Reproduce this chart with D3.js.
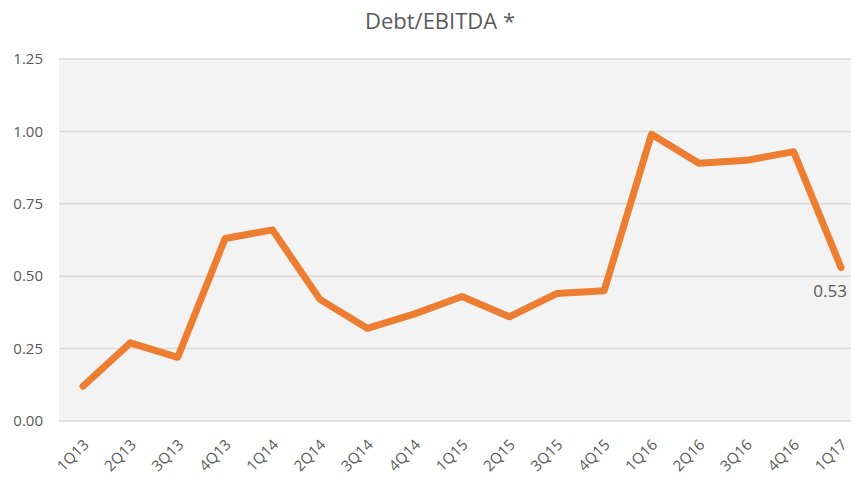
<!DOCTYPE html>
<html>
<head>
<meta charset="utf-8">
<script src="https://cdn.jsdelivr.net/npm/d3@7"></script>
<style>
	body { margin: 0; background: #fff; }
	text { font-family: "Open Sans", "Noto Sans", sans-serif; fill: #595959; }
</style>
</head>
<body>
<svg width="851" height="481"></svg>
<script>
var quarters = ["1Q13","2Q13","3Q13","4Q13","1Q14","2Q14","3Q14","4Q14","1Q15","2Q15","3Q15","4Q15","1Q16","2Q16","3Q16","4Q16","1Q17"];
var ratio = [0.12,0.27,0.22,0.63,0.66,0.42,0.32,0.37,0.43,0.36,0.44,0.45,0.99,0.89,0.90,0.93,0.53];
var y_ticks = [0,0.25,0.5,0.75,1.0,1.25];

(function(){
	var svg = d3.select("svg");
	// plot box (note: "top" is reserved on window, so keep these local)
	var box = { left: 59, right: 851, top: 59, bottom: 421 };

	var x = d3.scalePoint().domain(quarters).range([83, 841]);
	var y = d3.scaleLinear().domain([0,1.25]).range([box.bottom, box.top]);

	// plot background
	svg.append("rect")
		.attr("x", box.left).attr("y", box.top)
		.attr("width", box.right-box.left).attr("height", box.bottom-box.top)
		.attr("fill", "#f3f3f3");

	// gridlines
	svg.append("g").selectAll("line")
		.data(y_ticks)
		.enter().append("line")
			.attr("x1", box.left).attr("x2", box.right)
			.attr("y1", function(d){ return y(d); })
			.attr("y2", function(d){ return y(d); })
			.attr("stroke", "#d9d9d9")
			.attr("stroke-width", 1.5);

	// y labels
	svg.append("g").selectAll("text")
		.data(y_ticks)
		.enter().append("text")
			.attr("x", 43)
			.attr("y", function(d){ return y(d); })
			.attr("dy", "0.35em")
			.attr("text-anchor", "end")
			.attr("font-size", 15)
			.text(function(d){ return d3.format(".2f")(d); });

	// x labels, rotated
	svg.append("g").selectAll("text")
		.data(quarters)
		.enter().append("text")
			.attr("transform", function(d){ return "translate(" + (x(d)+3) + "," + (box.bottom+21) + ") rotate(-45)"; })
			.attr("text-anchor", "end")
			.attr("dy", "0.35em")
			.attr("font-size", 15)
			.text(function(d){ return d; });

	// the line
	var line = d3.line()
		.x(function(d,i){ return x(quarters[i]); })
		.y(function(d){ return y(d); });

	svg.append("path")
		.datum(ratio)
		.attr("d", line)
		.attr("fill", "none")
		.attr("stroke", "#ED7D31")
		.attr("stroke-width", 7)
		.attr("stroke-linejoin", "round")
		.attr("stroke-linecap", "round");

	// last value label
	var last = ratio.length - 1;
	svg.append("text")
		.attr("x", x(quarters[last]) + 6)
		.attr("y", y(ratio[last]) + 29)
		.attr("text-anchor", "end")
		.attr("font-size", 17)
		.text(d3.format(".2f")(ratio[last]));

	// title
	svg.append("text")
		.attr("x", 440).attr("y", 29)
		.attr("text-anchor", "middle")
		.attr("font-size", 22)
		.text("Debt/EBITDA *");
})();
</script>
</body>
</html>
